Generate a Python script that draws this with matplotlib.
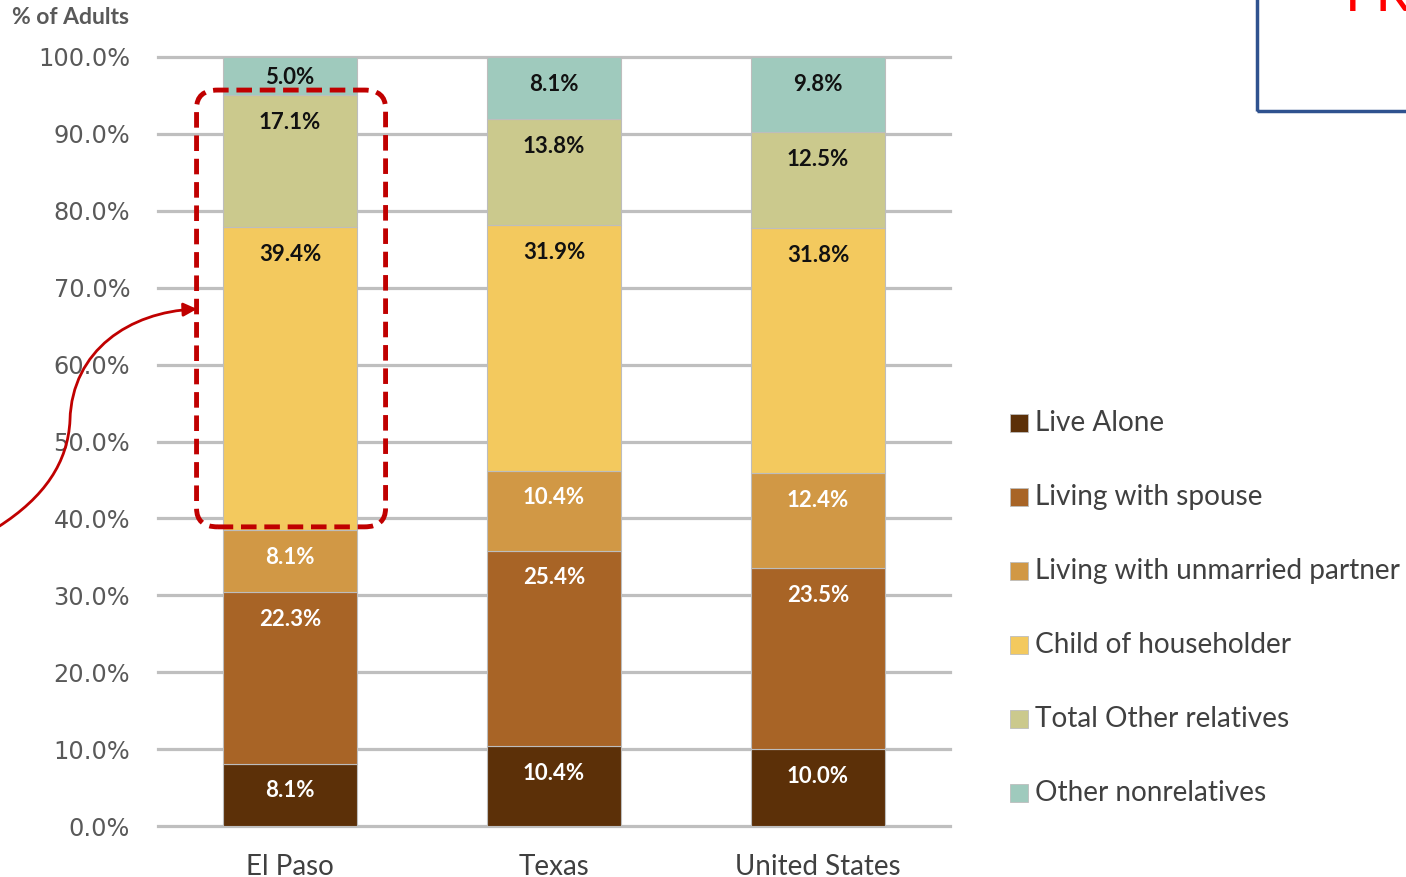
import matplotlib
matplotlib.use("Agg")
import matplotlib.pyplot as plt
from matplotlib.patches import FancyBboxPatch, Rectangle, FancyArrowPatch
from matplotlib.path import Path
import numpy as np

categories = ["El Paso", "Texas", "United States"]
series_names = ["Live Alone", "Living with spouse", "Living with unmarried partner",
                "Child of householder", "Total Other relatives", "Other nonrelatives"]
live_alone = [8.1, 10.4, 10.0]
with_spouse = [22.3, 25.4, 23.5]
unmarried_partner = [8.1, 10.4, 12.4]
child_of_householder = [39.4, 31.9, 31.8]
other_relatives = [17.1, 13.8, 12.5]
other_nonrelatives = [5.0, 8.1, 9.8]
yticks = [0, 10, 20, 30, 40, 50, 60, 70, 80, 90, 100]

series = [live_alone, with_spouse, unmarried_partner, child_of_householder,
          other_relatives, other_nonrelatives]
colors = ["#5C3008", "#A86426", "#D19845", "#F3C95E", "#CBC98D", "#9FCABD"]
label_colors = ["white", "white", "white", "#111111", "#111111", "#111111"]

W, H = 1406, 877
fig = plt.figure(figsize=(W / 100, H / 100), dpi=100)
ax = fig.add_axes([158 / W, 1 - 826 / H, (950 - 158) / W, (826 - 57) / H])

x = np.arange(len(categories))
bottom = np.zeros(len(categories))
for vals, col, lc in zip(series, colors, label_colors):
    vals = np.array(vals)
    ax.bar(x, vals, 0.504, bottom=bottom, color=col, edgecolor="#BDBDBD",
           linewidth=0.8, zorder=3)
    for xi, v, b in zip(x, vals, bottom):
        top = b + v
        # inside-end style label
        off = min(19.5, v * 7.69 / 2 * 0.72 + 1.0)
        ax.annotate(f"{v:.1f}%", xy=(xi, top), xytext=(0, -off),
                    textcoords="offset points", ha="center", va="center",
                    fontsize=16, fontweight="bold", color=lc, family="Lato", zorder=5)
    bottom = bottom + vals

ax.set_xlim(-0.5, 2.5)
ax.set_ylim(0, 100)
for t in yticks:
    ax.axhline(t, color="#BFBFBF", lw=2.3, zorder=1, clip_on=False)
ax.set_yticks(yticks)
ax.set_yticklabels([f"{t:.1f}%" for t in yticks], fontsize=17.3, color="#595959",
                   family="DejaVu Sans")
ax.set_xticks(x)
ax.set_xticklabels(categories, fontsize=20, color="#404040", family="Lato")
ax.tick_params(axis="y", length=0, pad=20)
ax.tick_params(axis="x", length=0, pad=20)
for s in ax.spines.values():
    s.set_visible(False)
ax.set_facecolor("none")

fig.text(12 / W, 1 - 18 / H, "% of Adults", fontsize=16.5, fontweight="bold",
         color="#595959", family="Lato", ha="left", va="center")

# legend drawn manually
leg_y = [423, 497, 571, 645, 719, 793]
for name, col, yy in zip(series_names, colors, leg_y):
    fig.patches.append(Rectangle((1010 / W, 1 - (yy + 9) / H), 18 / W, 18 / H,
                                 transform=fig.transFigure, facecolor=col,
                                 edgecolor="#BDBDBD", lw=0.6))
    fig.text(1035 / W, 1 - yy / H, name, fontsize=20.2, color="#404040",
             family="Lato", ha="left", va="center")

# dashed rounded highlight box
box = FancyBboxPatch((-0.354, 38.9), 0.716, 95.7 - 38.9,
                     boxstyle="round,pad=0,rounding_size=0.08",
                     mutation_aspect=30.0,
                     fill=False, edgecolor="#C00000", lw=3.5,
                     linestyle=(0, (3.2, 1.6)), zorder=6, clip_on=False)
ax.add_patch(box)

# curved arrow (display pixel coordinates)
def P(px, py):
    return (px, H - py)
verts = [P(-2, 527), P(45, 497), P(68, 462), P(70, 420),
         P(72, 350), P(130, 312), P(197, 309)]
codes = [Path.MOVETO, Path.CURVE4, Path.CURVE4, Path.CURVE4,
         Path.CURVE4, Path.CURVE4, Path.CURVE4]
arrow = FancyArrowPatch(path=Path(verts, codes), arrowstyle="-|>,head_length=8,head_width=4",
                        color="#C00000", lw=2, transform=None, zorder=7)
fig.patches.append(arrow)

# partial box at top right (cut off at the figure edge, as in the reference)
fig.patches.append(Rectangle((1257 / W, 1 - 111 / H), 200 / W, 140 / H,
                             transform=fig.transFigure, fill=False,
                             edgecolor="#2F528F", lw=2.5))
fig.text(1345 / W, 1 - 11 / H, "FR", fontsize=40, color="#FF0000",
         family="Lato", ha="left", va="baseline")

fig.savefig("out.png", dpi=100)
